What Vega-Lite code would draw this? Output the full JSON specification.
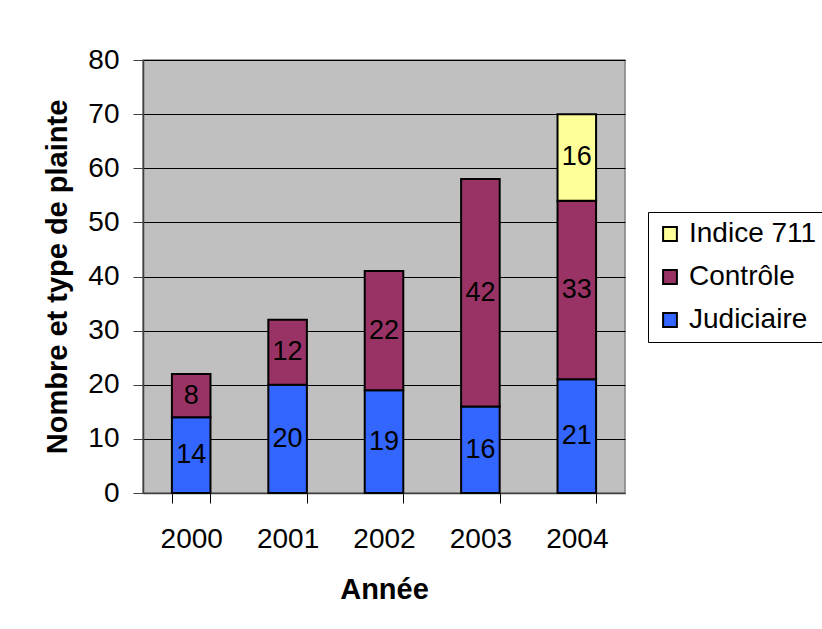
{
  "$schema": "https://vega.github.io/schema/vega-lite/v6.json",
  "width": 482,
  "height": 433,
  "autosize": {"type": "none"},
  "padding": {"left": 143, "top": 60, "right": 197, "bottom": 136},
  "background": "white",
  "config": {
    "font": "Liberation Sans",
    "view": {"fill": "#C0C0C0", "stroke": "#808080", "strokeWidth": 1.5},
    "axis": {"labelFont": "Liberation Sans", "titleFont": "Liberation Sans", "labelColor": "black", "titleColor": "black"},
    "legend": {"labelFont": "Liberation Sans"}
  },
  "data": {
    "values": [
      {"year": "2000", "series": "Judiciaire", "value": 14},
      {"year": "2000", "series": "Contrôle", "value": 8},
      {"year": "2001", "series": "Judiciaire", "value": 20},
      {"year": "2001", "series": "Contrôle", "value": 12},
      {"year": "2002", "series": "Judiciaire", "value": 19},
      {"year": "2002", "series": "Contrôle", "value": 22},
      {"year": "2003", "series": "Judiciaire", "value": 16},
      {"year": "2003", "series": "Contrôle", "value": 42},
      {"year": "2004", "series": "Judiciaire", "value": 21},
      {"year": "2004", "series": "Contrôle", "value": 33},
      {"year": "2004", "series": "Indice 711", "value": 16}
    ]
  },
  "transform": [
    {"calculate": "indexof(['Judiciaire','Contrôle','Indice 711'], datum.series)", "as": "rank"},
    {"stack": "value", "groupby": ["year"], "sort": [{"field": "rank", "order": "ascending"}], "as": ["y0", "y1"]},
    {"calculate": "(datum.y0 + datum.y1) / 2", "as": "ymid"}
  ],
  "encoding": {
    "x": {
      "field": "year",
      "type": "nominal",
      "scale": {"paddingInner": 0.6, "paddingOuter": 0.3},
      "axis": {
        "title": "Année",
        "titleFontSize": 29,
        "titleFontWeight": "bold",
        "titlePadding": 22,
        "labelFontSize": 28,
        "labelAngle": 0,
        "labelPadding": 22,
        "tickBand": "extent",
        "tickSize": 10,
        "tickColor": "black",
        "domainColor": "#404040",
        "domainWidth": 1.5,
        "grid": false
      }
    }
  },
  "layer": [
    {
      "mark": {"type": "bar", "stroke": "black", "strokeWidth": 2},
      "encoding": {
        "y": {
          "field": "y0",
          "type": "quantitative",
          "scale": {"domain": [0, 80]},
          "axis": {
            "title": "Nombre et type de plainte",
            "titleFontSize": 29,
            "titleFontWeight": "bold",
            "titlePadding": 15,
            "labelFontSize": 28,
            "labelPadding": 14,
            "labelOverlap": false,
            "values": [0, 10, 20, 30, 40, 50, 60, 70, 80],
            "tickSize": 10,
            "tickColor": "#404040",
            "domainColor": "#404040",
            "domainWidth": 1.5,
            "grid": true,
            "gridColor": "black",
            "gridWidth": 1
          }
        },
        "y2": {"field": "y1"},
        "color": {
          "field": "series",
          "type": "nominal",
          "scale": {
            "domain": ["Indice 711", "Contrôle", "Judiciaire"],
            "range": ["#FFFF99", "#993366", "#3366FF"]
          },
          "legend": {
            "title": null,
            "orient": "none",
            "legendX": 505,
            "legendY": 152,
            "symbolType": "square",
            "symbolSize": 190,
            "symbolStrokeColor": "black",
            "symbolStrokeWidth": 2,
            "labelFontSize": 28,
            "labelColor": "black",
            "labelOffset": 5,
            "rowPadding": 15,
            "strokeColor": "black",
            "padding": 8,
            "fillColor": "white"
          }
        }
      }
    },
    {
      "mark": {"type": "text", "fontSize": 27, "color": "black", "baseline": "middle"},
      "encoding": {
        "y": {"field": "ymid", "type": "quantitative"},
        "text": {"field": "value", "type": "quantitative"}
      }
    }
  ]
}
